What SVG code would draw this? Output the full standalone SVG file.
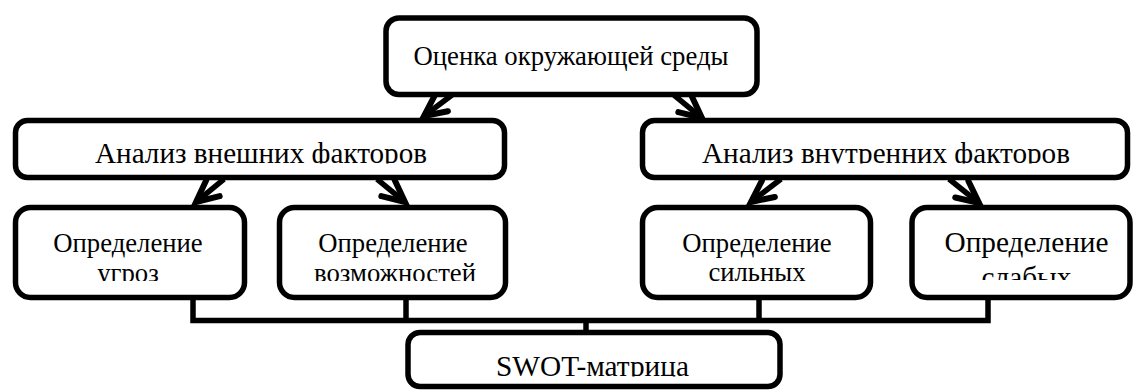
<svg xmlns="http://www.w3.org/2000/svg" width="1133" height="390" viewBox="0 0 1133 390">
<style>
.box{fill:#fff;stroke:#000;stroke-width:5.5}
.t{font-family:"Liberation Serif","Times New Roman","DejaVu Serif",serif;fill:#000;text-anchor:middle}
.s1{font-size:26.7px}
.s2{font-size:29.3px}
.ln{fill:none;stroke:#000;stroke-width:5.5}
.ar{fill:none;stroke:#000;stroke-width:5.5;marker-end:url(#ah)}
</style>
<defs>
<marker id="ah" markerUnits="userSpaceOnUse" markerWidth="40" markerHeight="40" viewBox="-30 -20 40 40" refX="0" refY="0" orient="auto">
<path d="M-22,-10.5 L0,0 L-22,10.5" fill="none" stroke="#000" stroke-width="6" stroke-linecap="round" stroke-linejoin="miter"/>
</marker>
<clipPath id="c2"><rect x="0" y="100" width="1133" height="63.5"/></clipPath>
<clipPath id="c3"><rect x="0" y="200" width="900" height="81"/></clipPath>
<clipPath id="c4"><rect x="900" y="200" width="233" height="80"/></clipPath>
<clipPath id="c5"><rect x="0" y="330" width="1133" height="46.5"/></clipPath>
</defs>
<rect width="1133" height="390" fill="#fff"/>
<g id="connectors">
<path class="ln" d="M193,297 V320.5 H988 V297"/>
<path class="ln" d="M406,297 V320.5"/>
<path class="ln" d="M759,297 V320.5"/>
<path class="ln" d="M586,320.5 V333"/>
<path class="ar" d="M452,95 L424,116"/>
<path class="ar" d="M674,95 L702,118"/>
<path class="ar" d="M224,179 L196,202"/>
<path class="ar" d="M377,179 L405,202"/>
<path class="ar" d="M781,179 L751,202"/>
<path class="ar" d="M949,179 L979,203"/>
</g>
<g id="env">
<rect class="box" x="386" y="18" width="371" height="76.5" rx="13"/>
<text class="t s1" x="571" y="65" textLength="315" lengthAdjust="spacingAndGlyphs">Оценка окружающей среды</text>
</g>
<g id="external">
<rect class="box" x="15.5" y="120.5" width="489" height="57" rx="12"/>
<text class="t s2" x="261" y="163" clip-path="url(#c2)" textLength="332" lengthAdjust="spacingAndGlyphs">Анализ внешних факторов</text>
</g>
<g id="internal">
<rect class="box" x="642.5" y="120.5" width="485" height="57" rx="12"/>
<text class="t s2" x="886" y="163" clip-path="url(#c2)" textLength="368" lengthAdjust="spacingAndGlyphs">Анализ внутренних факторов</text>
</g>
<g id="threats">
<rect class="box" x="15.5" y="207.5" width="229" height="90" rx="15"/>
<g class="t s1" clip-path="url(#c3)">
<text x="128" y="252">Определение</text>
<text x="128" y="282">угроз</text>
</g>
</g>
<g id="opportunities">
<rect class="box" x="279.5" y="207.5" width="226" height="90" rx="15"/>
<g class="t s1" clip-path="url(#c3)">
<text x="393" y="252">Определение</text>
<text x="395" y="282">возможностей</text>
</g>
</g>
<g id="strengths">
<rect class="box" x="642.5" y="207.5" width="228" height="90" rx="15"/>
<g class="t s1" clip-path="url(#c3)">
<text x="757" y="252">Определение</text>
<text x="757" y="281">сильных</text>
</g>
</g>
<g id="weaknesses">
<rect class="box" x="912" y="207.5" width="218" height="90" rx="15"/>
<g class="t s2" clip-path="url(#c4)">
<text x="1026.5" y="252">Определение</text>
<text x="1026.5" y="287">слабых</text>
</g>
</g>
<g id="swot">
<rect class="box" x="408" y="332.5" width="372" height="54" rx="12"/>
<text class="t s2" x="592.5" y="376" clip-path="url(#c5)">SWOT-матрица</text>
</g>
</svg>
